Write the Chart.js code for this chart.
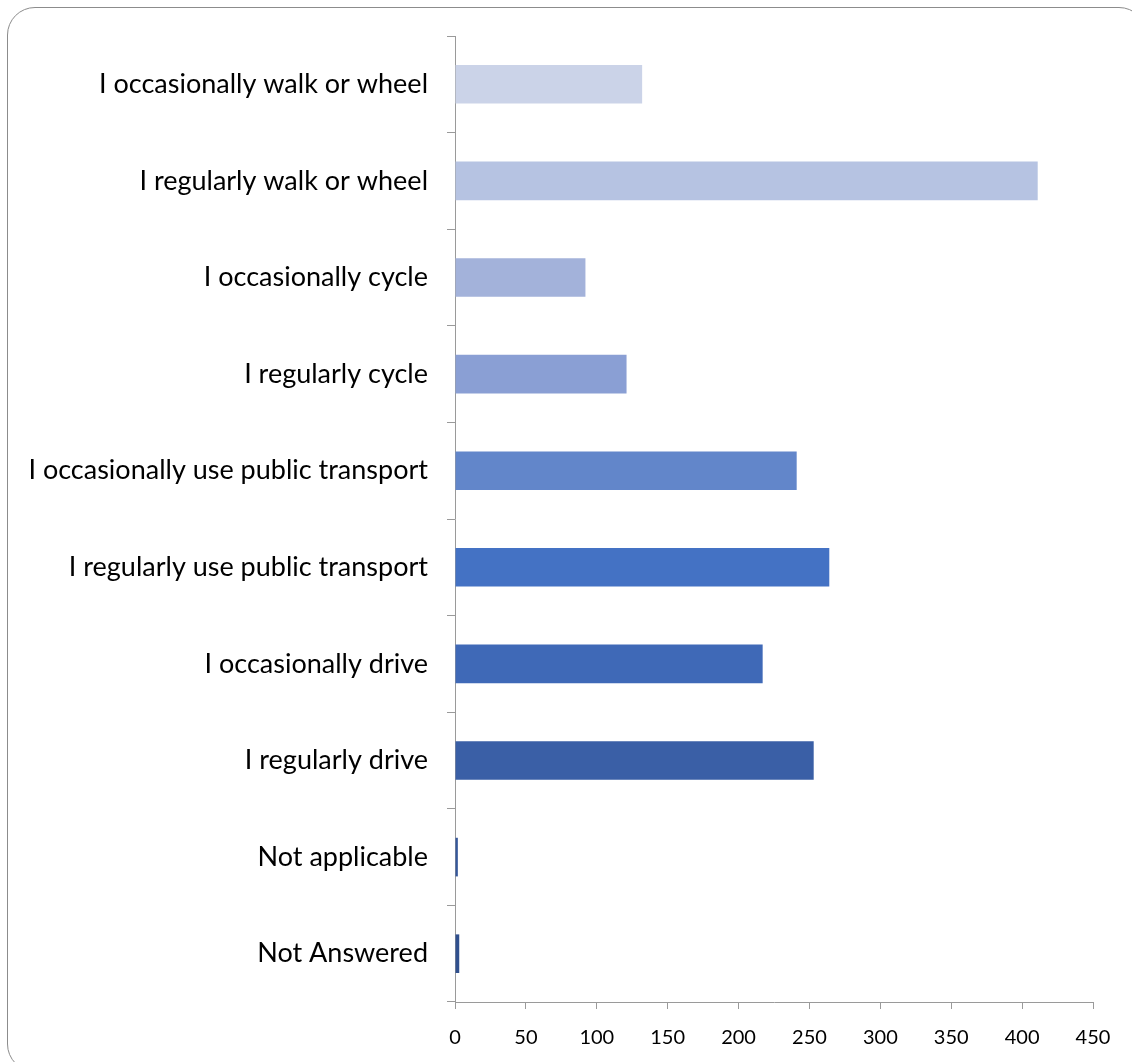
<!DOCTYPE html>
<html>
<head>
<meta charset="utf-8">
<script src="https://cdn.jsdelivr.net/npm/chart.js@4.4.0/dist/chart.umd.min.js"></script>
<style>
  html, body { margin: 0; padding: 0; background: #fff; overflow: hidden; }
  #wrap { position: relative; width: 1132px; height: 1062px; overflow: hidden; }
  #frame {
    position: absolute; left: 7px; top: 7px; width: 1140px; height: 1065px;
    border: 1px solid #8c8c8c; border-radius: 28px; box-sizing: border-box;
  }
  #chartBox { position: absolute; left: 0; top: 0; width: 1132px; height: 1062px; }
</style>
</head>
<body>
<div id="wrap">
  <div id="frame"></div>
  <div id="chartBox"><canvas id="travelChart"></canvas></div>
</div>
<script>
const categories = [
  'I occasionally walk or wheel',
  'I regularly walk or wheel',
  'I occasionally cycle',
  'I regularly cycle',
  'I occasionally use public transport',
  'I regularly use public transport',
  'I occasionally drive',
  'I regularly drive',
  'Not applicable',
  'Not Answered'
];
const responses = [132, 411, 92, 121, 241, 264, 217, 253, 2, 3];
const barColors = [
  '#cbd3e8', '#b6c3e2', '#a3b2da', '#8a9fd4', '#6286ca',
  '#4472c4', '#3f69b7', '#3a5fa6', '#35579a', '#30508e'
];
const xTicks = [0, 50, 100, 150, 200, 250, 300, 350, 400, 450];

document.addEventListener('DOMContentLoaded', function() {
  const ctx = document.getElementById('travelChart');
  const fontFamily = 'Lato, "Open Sans", sans-serif';

  new Chart(ctx, {
    type: 'bar',
    data: {
      labels: categories,
      datasets: [{
        data: responses,
        backgroundColor: barColors,
        borderWidth: 0,
        categoryPercentage: 1,
        barPercentage: 0.4
      }]
    },
    options: {
      indexAxis: 'y',
      responsive: true,
      maintainAspectRatio: false,
      animation: false,
      layout: {
        padding: { left: 0, right: 39, top: 36, bottom: 0 }
      },
      scales: {
        x: {
          min: 0,
          max: 450,
          afterBuildTicks: function(scale) {
            scale.ticks = xTicks.map(v => ({ value: v }));
          },
          afterFit: function(scale) {
            scale.height = 60;
          },
          grid: {
            drawOnChartArea: false,
            tickLength: 7,
            color: '#9a9a9a'
          },
          border: { color: '#9a9a9a' },
          ticks: {
            color: '#000',
            padding: 17,
            maxRotation: 0,
            font: { family: fontFamily, size: 20 }
          }
        },
        y: {
          afterFit: function(scale) {
            scale.width = 455;
          },
          grid: {
            drawOnChartArea: false,
            offset: true,
            tickLength: 8,
            color: '#9a9a9a'
          },
          border: { color: '#9a9a9a' },
          ticks: {
            color: '#000',
            padding: 19,
            font: { family: fontFamily, size: 27 }
          }
        }
      },
      plugins: {
        legend: { display: false },
        tooltip: { enabled: false }
      }
    }
  });
});
</script>
</body>
</html>
